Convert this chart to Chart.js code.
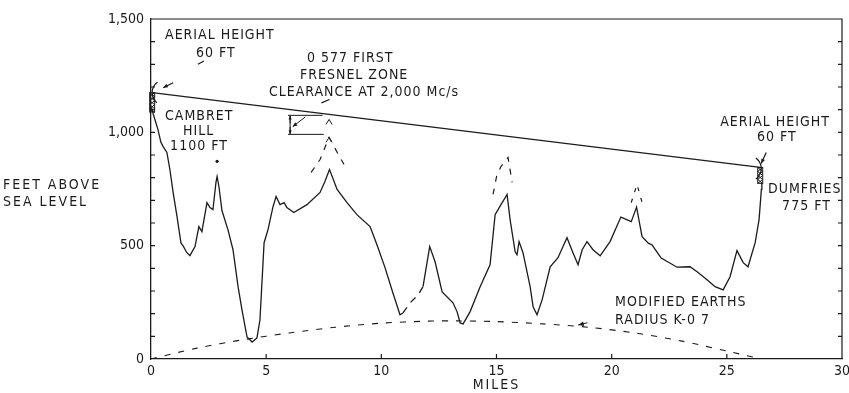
<!DOCTYPE html>
<html><head><meta charset="utf-8">
<script src="https://cdn.jsdelivr.net/npm/chart.js@4/dist/chart.umd.min.js"></script>
<style>html,body{margin:0;padding:0;background:#fff}#c{display:block}</style>
</head><body>
<canvas id="c" width="849" height="393"></canvas>
<script>
// ---------- DATA ----------
const profileMilesA = [0.02,0.1,0.3,0.43,0.52,0.69,0.82,0.96,1.13,1.3,1.4,1.55,1.69,1.91,2.08,2.21,2.43,2.56,2.69,2.82,2.87,2.95,3.08,3.34,3.56,3.78,3.95,4.17,4.39,4.6,4.73,4.91,5.08,5.3,5.43,5.6,5.78,5.9,6.2,6.77,7.34,7.55,7.75,8.08,8.51,8.94,9.51,9.81,10.16,10.5,10.81,10.94];
const profileFeetA  = [1110,1080,1013,956,938,911,836,735,628,512,498,470,456,496,584,562,690,668,659,779,805,760,655,571,482,319,217,97,75,93,172,513,571,673,717,681,690,668,646,681,735,783,836,748,690,637,584,504,403,292,195,203];
const gapMiles = [10.94,11.25,11.6,11.81];
const gapFeet  = [203,248,283,319];
const profileMilesB = [11.81,12.1,12.33,12.64,13.11,13.29,13.42,13.55,13.85,14.29,14.72,14.94,15.15,15.46,15.59,15.81,15.89,15.98,16.15,16.46,16.59,16.76,16.98,17.33,17.67,18.06,18.32,18.54,18.72,18.93,19.19,19.5,19.93,20.4,20.85,21.08,21.32,21.6,21.75,22.15,22.84,23.4,23.71,24.14,24.49,24.84,25.14,25.44,25.71,25.92,26.23,26.4,26.5,26.52];
const profileFeetB  = [319,496,430,296,248,208,159,155,208,319,416,637,673,726,615,473,460,518,469,319,230,195,261,407,447,535,469,416,482,518,482,455,518,626,606,670,540,510,504,445,405,407,385,350,319,305,363,478,425,407,513,615,748,775];
const sightMiles = [0.05,26.45];
const sightFeet  = [1175,845];
const earthMiles = [0,2,4,6,8,10,12,13.3,15,17,19,21,23,25,26.5];
const earthFeet  = [0,48,85,115,140,158,167,168,165,155,140,115,80,35,0];
const bulge1Miles = [6.95,7.34,7.73,8.08,8.38];
const bulge1Feet  = [823,880,978,912,858];
const bulge2Miles = [14.85,15.02,15.2,15.5,15.68];
const bulge2Feet  = [726,814,850,889,779];
const bulge3Miles = [20.85,21.1,21.35];
const bulge3Feet  = [690,770,680];
const dotMiles = [2.87];
const dotFeet  = [872];
const xTickValues = [0,5,10,15,20,25,30];
const yTickValues = [0,500,1000,1500];
const yTickLabels = ['0','500','1,000','1,500'];
const towerMiles = [0.05,26.45];
const towerBaseFeet = [1090,775];
const towerTopFeet  = [1175,845];

// ---------- HELPERS ----------
const INK = '#1b1b1b';
const FONT = "'Liberation Sans Narrow','DejaVu Sans Condensed','Liberation Sans',sans-serif";
const pts = (xs, ys) => xs.map((x, i) => ({x, y: ys[i]}));
const lineDs = (xs, ys, extra) => Object.assign({
  data: pts(xs, ys), showLine: true, borderColor: INK, borderWidth: 1.3,
  pointRadius: 0, tension: 0, fill: false
}, extra || {});

// annotation texts: [text, mile, feet] (left aligned, middle)
const notes = [
  ['AERIAL HEIGHT', 0.61, 1429],
  ['60 FT', 1.95, 1350],
  ['0 577 FIRST', 6.77, 1327],
  ['FRESNEL ZONE', 6.47, 1252],
  ['CLEARANCE AT 2,000 Mc/s', 5.12, 1177],
  ['CAMBRET', 0.61, 1071],
  ['HILL', 1.39, 1004],
  ['1100 FT', 0.83, 938],
  ['AERIAL HEIGHT', 24.71, 1044],
  ['60 FT', 26.31, 978],
  ['DUMFRIES', 26.79, 748],
  ['775 FT', 27.4, 673],
  ['MODIFIED EARTHS', 20.15, 252],
  ['RADIUS K-0 7', 20.15, 170]
];

const decor = {
  id: 'decor',
  afterDraw(chart) {
    const {ctx, chartArea: a, scales: {x, y}} = chart;
    const X = v => x.getPixelForValue(v), Y = v => y.getPixelForValue(v);
    ctx.save();
    ctx.strokeStyle = INK; ctx.fillStyle = INK; ctx.lineWidth = 1.2;
    // frame top and right
    ctx.beginPath();
    ctx.moveTo(a.left, a.top); ctx.lineTo(a.right, a.top); ctx.lineTo(a.right, a.bottom);
    ctx.stroke();
    // inward ticks
    ctx.beginPath();
    for (let v = 100; v < 1500; v += 100) {
      ctx.moveTo(a.left, Y(v)); ctx.lineTo(a.left + 4, Y(v));
      ctx.moveTo(a.right, Y(v)); ctx.lineTo(a.right - 4, Y(v));
    }
    xTickValues.slice(1, -1).forEach(v => { ctx.moveTo(X(v), a.bottom); ctx.lineTo(X(v), a.bottom - 5); });
    ctx.stroke();

    // texts
    ctx.font = '14px ' + FONT;
    ctx.textBaseline = 'middle'; ctx.textAlign = 'left';
    try { ctx.letterSpacing = '1px'; } catch (e) {}
    notes.forEach(([t, mx, fy]) => ctx.fillText(t, X(mx), Y(fy)));
    // y title
    try { ctx.letterSpacing = '2px'; } catch (e) {}
    ctx.fillText('FEET ABOVE', 3, Y(765));
    ctx.fillText('SEA LEVEL', 3, Y(690));
    // x title
    ctx.textAlign = 'center';
    ctx.fillText('MILES', X(15), 385);
    try { ctx.letterSpacing = '0px'; } catch (e) {}

    // towers
    towerMiles.forEach((m, i) => {
      const tx = X(m), t0 = Y(towerTopFeet[i]), t1 = Y(towerBaseFeet[i]);
      ctx.lineWidth = 1;
      ctx.strokeRect(tx - 2.5, t0, 5, t1 - t0);
      ctx.beginPath();
      for (let yy = t0; yy < t1 - 3; yy += 4) {
        ctx.moveTo(tx - 2.5, yy); ctx.lineTo(tx + 2.5, yy + 4);
        ctx.moveTo(tx + 2.5, yy); ctx.lineTo(tx - 2.5, yy + 4);
      }
      ctx.stroke();
    });
    // left arc + arrow
    const lx = X(towerMiles[0]), ly = Y(towerTopFeet[0]);
    ctx.lineWidth = 1.2;
    ctx.beginPath(); ctx.arc(lx + 13, ly, 13, Math.PI * 0.72, Math.PI * 1.3); ctx.stroke();
    const arrow = (x1, y1, x2, y2, s) => {
      const ang = Math.atan2(y2 - y1, x2 - x1);
      ctx.beginPath(); ctx.moveTo(x1, y1); ctx.lineTo(x2, y2); ctx.stroke();
      ctx.beginPath(); ctx.moveTo(x2, y2);
      ctx.lineTo(x2 - s * Math.cos(ang - 0.4), y2 - s * Math.sin(ang - 0.4));
      ctx.lineTo(x2 - s * Math.cos(ang + 0.4), y2 - s * Math.sin(ang + 0.4));
      ctx.closePath(); ctx.fill();
    };
    arrow(lx + 21, ly - 10, lx + 11, ly - 5, 5);
    // right arc + arrow
    const rx = X(towerMiles[1]), ry = Y(towerTopFeet[1]);
    ctx.beginPath(); ctx.arc(rx - 12, ry + 1, 13, -Math.PI * 0.3, Math.PI * 0.3); ctx.stroke();
    arrow(rx + 6, ry - 15, rx + 1, ry - 4, 5);
    // leader dashes
    ctx.beginPath(); ctx.moveTo(X(1.95) + 2, Y(1300)); ctx.lineTo(X(1.95) + 8, Y(1315)); ctx.stroke();
    ctx.beginPath(); ctx.moveTo(X(7.4), Y(1130)); ctx.lineTo(X(7.75), Y(1145)); ctx.stroke();

    // Fresnel clearance bracket
    ctx.lineWidth = 1;
    ctx.beginPath();
    ctx.moveTo(X(5.95), Y(1075)); ctx.lineTo(X(7.45), Y(1075));
    ctx.moveTo(X(5.95), Y(991)); ctx.lineTo(X(7.5), Y(991));
    ctx.moveTo(X(6.04), Y(1075)); ctx.lineTo(X(6.04), Y(991));
    ctx.stroke();
    arrow(X(6.04), Y(1040), X(6.04), Y(1073), 4);
    arrow(X(6.04), Y(1025), X(6.04), Y(993), 4);
    arrow(X(6.7), Y(1068), X(6.15), Y(1025), 5);
    // carets
    const caret = (m, f) => {
      ctx.beginPath(); ctx.moveTo(X(m) - 3, Y(f) + 5); ctx.lineTo(X(m), Y(f)); ctx.lineTo(X(m) + 3, Y(f) + 5); ctx.stroke();
    };
    caret(7.73, 1057); caret(7.73, 978);
    // earth curve pointer
    arrow(X(18.95), Y(160), X(18.55), Y(150), 6);
    ctx.restore();
  }
};

const chart = new Chart(document.getElementById('c'), {
  type: 'scatter',
  data: {
    datasets: [
      lineDs(profileMilesA, profileFeetA),
      lineDs(gapMiles, gapFeet, {borderDash: [7, 6]}),
      lineDs(profileMilesB, profileFeetB),
      lineDs(sightMiles, sightFeet, {borderWidth: 1.2}),
      lineDs(earthMiles, earthFeet, {borderDash: [6, 8], borderWidth: 1.1, tension: 0.3}),
      lineDs(bulge1Miles, bulge1Feet, {borderDash: [6, 7], borderWidth: 1.2}),
      lineDs(bulge2Miles, bulge2Feet, {borderDash: [6, 7], borderWidth: 1.2}),
      lineDs(bulge3Miles, bulge3Feet, {borderDash: [4, 7], borderWidth: 1.2}),
      {data: pts(dotMiles, dotFeet), showLine: false, pointRadius: 1.6, pointBackgroundColor: INK, pointBorderWidth: 0}
    ]
  },
  options: {
    responsive: false, animation: false, events: [],
    layout: {autoPadding: false, padding: {top: 19, right: 7, left: 0, bottom: 0}},
    plugins: {legend: {display: false}, tooltip: {enabled: false}},
    scales: {
      x: {
        type: 'linear', min: 0, max: 30,
        afterBuildTicks: s => { s.ticks = xTickValues.map(v => ({value: v})); },
        ticks: {padding: 4, color: INK, font: {family: FONT, size: 14}, maxRotation: 0, autoSkip: false},
        grid: {display: false, drawTicks: false},
        border: {display: true, color: INK, width: 1.3},
        afterFit: s => { s.height = 34; s.paddingLeft = 0; s.paddingRight = 0; s.paddingTop = 0; s.paddingBottom = 0; }
      },
      y: {
        type: 'linear', min: 0, max: 1500,
        afterBuildTicks: s => { s.ticks = yTickValues.map(v => ({value: v})); },
        ticks: {padding: 7, color: INK, font: {family: FONT, size: 14}, autoSkip: false,
          callback: v => { const i = yTickValues.indexOf(v); return i >= 0 ? yTickLabels[i] : ''; }},
        grid: {display: false, drawTicks: false},
        border: {display: true, color: INK, width: 1.3},
        afterFit: s => { s.width = 151; s.paddingTop = 0; s.paddingBottom = 0; s.paddingLeft = 0; s.paddingRight = 0; }
      }
    }
  },
  plugins: [decor]
});
</script>
</body></html>
